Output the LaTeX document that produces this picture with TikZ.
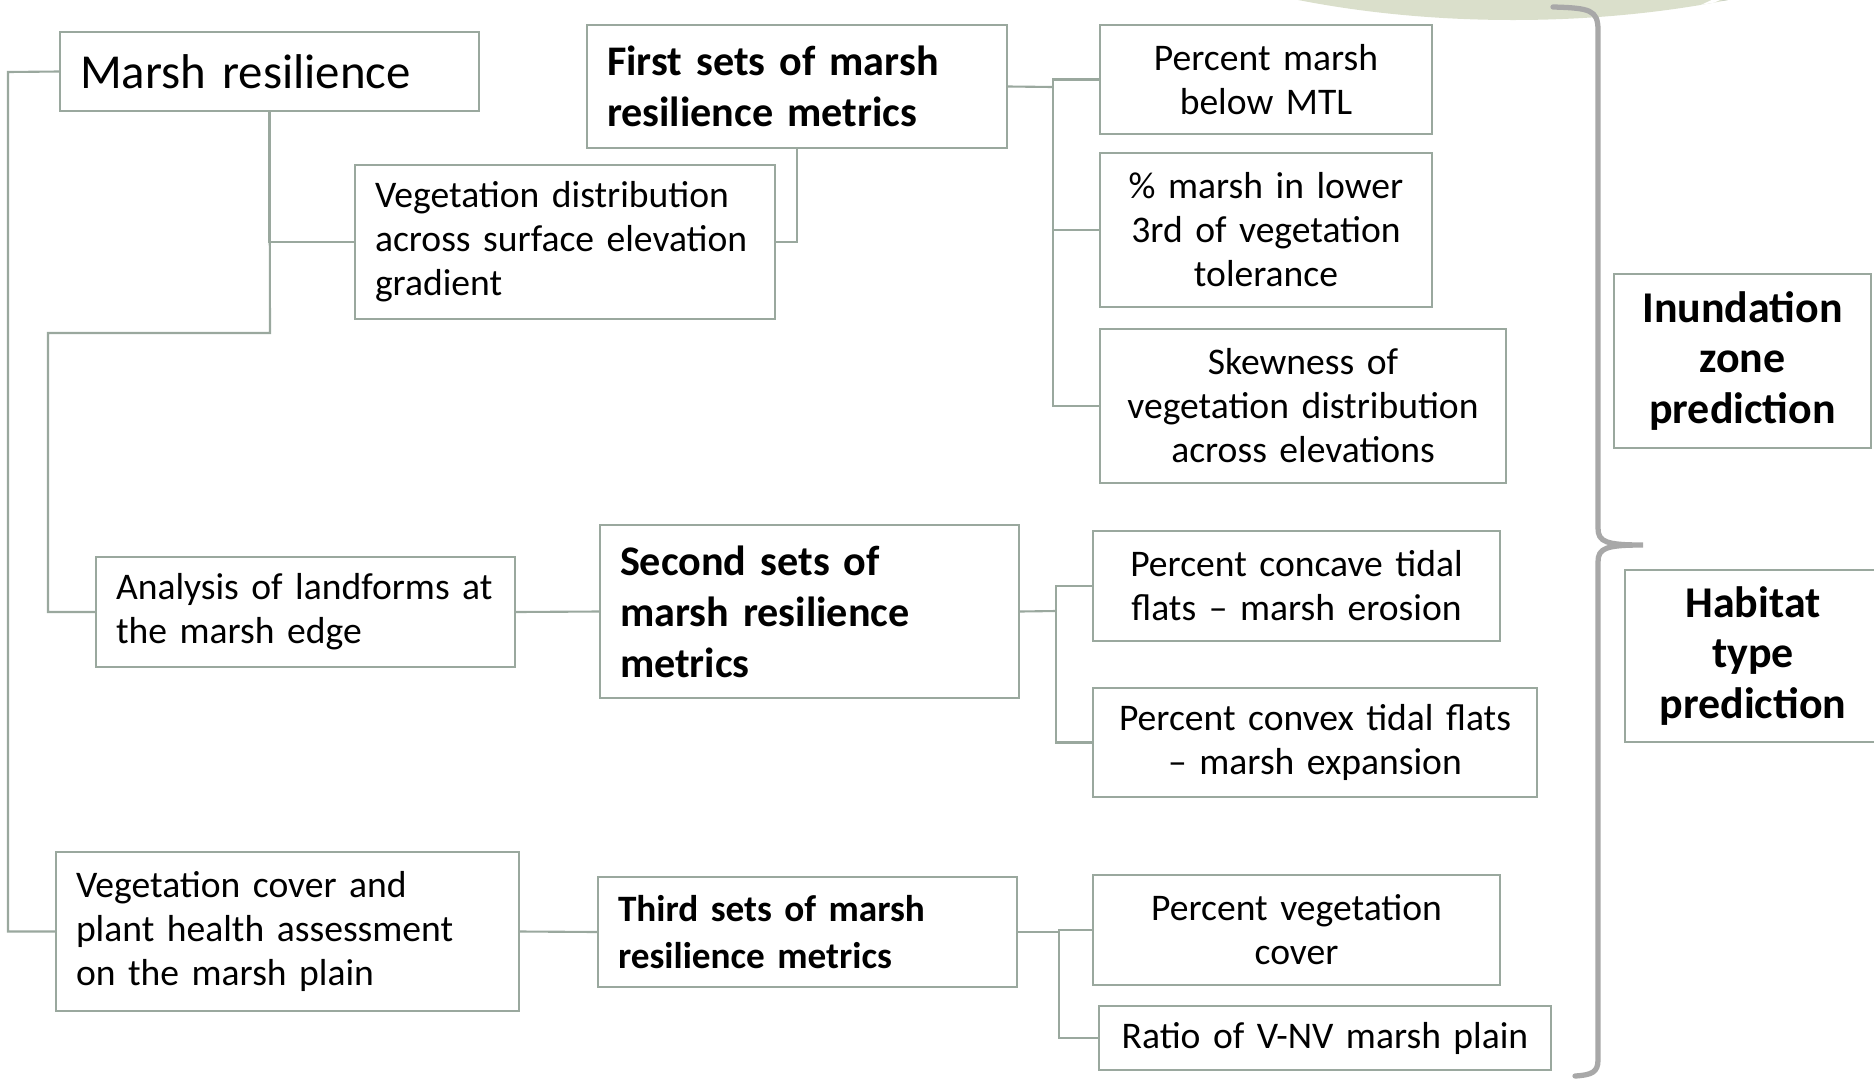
\documentclass[tikz,border=0pt]{standalone}
\usepackage{fontspec}
\setmainfont{Carlito}
\definecolor{boxline}{HTML}{9AA89E}
\definecolor{bracegray}{HTML}{A8A8A8}
\definecolor{leafgreen}{HTML}{DADFCB}
\definecolor{leafshade}{HTML}{C9D0C3}
\tikzset{
  box/.style={draw=boxline, line width=0.6pt, fill=white, inner xsep=2mm, inner ysep=0pt,
    font=\fontsize{10.7}{12.5}\selectfont},
  leftbox/.style={box, align=left},
  midbox/.style={box, align=center},
  headbox/.style={box, align=left, font=\fontsize{12}{14.5}\selectfont\bfseries},
  outbox/.style={box, align=center, font=\fontsize{12.5}{14.5}\selectfont\bfseries},
  link/.style={draw=boxline, line width=0.6pt},
}
\begin{document}
\begin{tikzpicture}[x=0.1mm, y=-0.1mm]
\useasboundingbox (0,0) rectangle (1874,1081);
% leaf at the top right
\fill[leafgreen] (1513,-200) ellipse (515 and 220);
\begin{scope}
  \clip (1513,-200) ellipse (515 and 220);
  \fill[leafshade] (1800,-150) ellipse (190 and 165);
  \draw[white, line width=1pt] (1690,12) -- (1720,-2);
\end{scope}

% first column
\node[box, align=left, font=\fontsize{13.9}{17}\selectfont, text width=37.9mm, minimum height=7.9mm] (mr) at (269.5,71.5) {Marsh resilience};
\node[leftbox, text width=38mm, minimum height=15.4mm] (veg) at (565,242) {Vegetation distribution\\across surface elevation\\gradient};
\node[leftbox, text width=37.9mm, minimum height=11mm] (analysis) at (305.5,612) {Analysis of landforms at\\the marsh edge};
\node[leftbox, text width=42.3mm, minimum height=15.9mm] (vegcov) at (287.5,931.5) {Vegetation cover and\\plant health assessment\\on the marsh plain};

% metric sets
\node[headbox, text width=38mm, minimum height=12.3mm] (first) at (797,86.5) {First sets of marsh\\resilience metrics};
\node[headbox, text width=37.9mm, minimum height=17.3mm] (second) at (809.5,611.5) {Second sets of\\marsh resilience\\metrics};
\node[headbox, font=\fontsize{10.6}{13.5}\selectfont\bfseries, text width=37.9mm, minimum height=11mm] (third) at (807.5,932) {Third sets of marsh\\resilience metrics};

% metrics
\node[midbox, text width=29.2mm, minimum height=10.9mm] (pm) at (1266,79.5) {Percent marsh\\below MTL};
\node[midbox, text width=29.2mm, minimum height=15.4mm] (lower3) at (1266,230) {\% marsh in lower\\3rd of vegetation\\tolerance};
\node[midbox, text width=36.6mm, minimum height=15.4mm] (skew) at (1303,406) {Skewness of\\vegetation distribution\\across elevations};
\node[midbox, text width=36.7mm, minimum height=11mm] (concave) at (1296.5,586) {Percent concave tidal\\flats -- marsh erosion};
\node[midbox, text width=40.4mm, minimum height=10.9mm] (convex) at (1315,742.5) {Percent convex tidal flats\\-- marsh expansion};
\node[midbox, text width=36.7mm, minimum height=11mm] (pvc) at (1296.5,930) {Percent vegetation\\cover};
\node[midbox, text width=41.2mm, minimum height=6.4mm] (ratio) at (1325,1038) {Ratio of V-NV marsh plain};

% predictions
\node[outbox, text width=21.7mm, minimum height=17.4mm] (inund) at (1742.5,361) {Inundation\\zone\\prediction};
\node[outbox, text width=21.6mm, minimum height=17.2mm] (habitat) at (1753,656) {Habitat\\type\\prediction};

% brace
\draw[bracegray, line width=1.5pt, line cap=round]
  (1553,7) .. controls (1590,8) and (1598,10) .. (1598,30) -- (1598,528)
  .. controls (1598,542) and (1606,545) .. (1643,545)
  .. controls (1606,545) and (1598,548) .. (1598,562) -- (1598,1060)
  .. controls (1598,1072) and (1592,1075) .. (1575,1076);

% connectors
\coordinate (outer) at (8,72);
\coordinate (trunk) at (270,333);
\coordinate (inner) at (48,333);
\draw[link] (mr.west) -- (outer) |- (vegcov.west);
\draw[link] (mr.south) -- (trunk) -- (inner) |- (analysis.west);
\draw[link] (veg.west) -| (mr.south);
\draw[link] (veg.east) -| (first.south);

\coordinate (fork1) at (1053,87);
\draw[link] (first.east) -- (fork1);
\foreach \n in {pm,lower3,skew}
  \draw[link] (\n.west) -| (fork1);

\coordinate (fork2) at (1056,611);
\draw[link] (analysis.east) -- (second.west);
\draw[link] (second.east) -- (fork2);
\foreach \n in {concave,convex}
  \draw[link] (\n.west) -| (fork2);

\coordinate (fork3) at (1059,932);
\draw[link] (vegcov.east) -- (third.west);
\draw[link] (third.east) -- (fork3);
\foreach \n in {pvc,ratio}
  \draw[link] (\n.west) -| (fork3);
\end{tikzpicture}
\end{document}
